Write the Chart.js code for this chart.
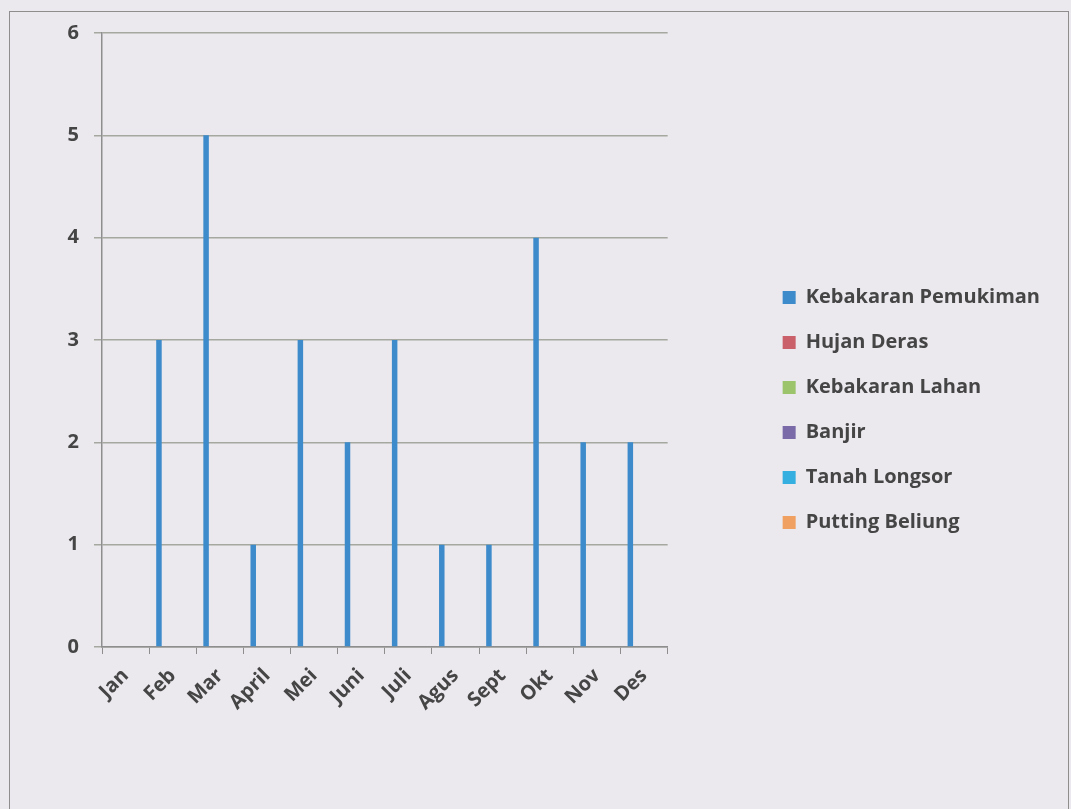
<!DOCTYPE html>
<html>
<head>
<meta charset="utf-8">
<script src="https://cdn.jsdelivr.net/npm/chart.js@4.4.1/dist/chart.umd.min.js"></script>
<style>
  html, body { margin: 0; padding: 0; background: #ebe8ee; overflow: hidden; }
  #wrap { position: absolute; left: 0; top: 0; width: 1071px; height: 809px; }
  #frame { position: absolute; left: 9px; top: 11px; width: 1058px; height: 820px; border: 1.5px solid #8e8e8e; pointer-events: none; }
  canvas { position: absolute; left: 0; top: 0; }
</style>
</head>
<body>
<div id="wrap">
  <canvas id="c" width="1071" height="809"></canvas>
  <div id="frame"></div>
</div>
<script>
const months = ['Jan','Feb','Mar','April','Mei','Juni','Juli','Agus','Sept','Okt','Nov','Des'];
const seriesNames = ['Kebakaran Pemukiman','Hujan Deras','Kebakaran Lahan','Banjir','Tanah Longsor','Putting Beliung'];
const kebakaranPemukiman = [0,3,5,1,3,2,3,1,1,4,2,2];
const hujanDeras        = [0,0,0,0,0,0,0,0,0,0,0,0];
const kebakaranLahan    = [0,0,0,0,0,0,0,0,0,0,0,0];
const banjir            = [0,0,0,0,0,0,0,0,0,0,0,0];
const tanahLongsor      = [0,0,0,0,0,0,0,0,0,0,0,0];
const puttingBeliung    = [0,0,0,0,0,0,0,0,0,0,0,0];
const yTicks = [0,1,2,3,4,5,6];

const seriesValues = [kebakaranPemukiman, hujanDeras, kebakaranLahan, banjir, tanahLongsor, puttingBeliung];
const seriesColors = ['#3d8bcb','#c9606a','#9cc46a','#7a6aa8','#35afe0','#f0a060'];

const FONT = { family: '"Open Sans", sans-serif', size: 20, weight: '700' };
const TEXT = '#454545';

const datasets = seriesNames.map((name, i) => ({
  label: name,
  data: seriesValues[i],
  backgroundColor: seriesColors[i],
  borderWidth: 0,
  categoryPercentage: 0.70,
  barPercentage: 1.0
}));

new Chart(document.getElementById('c'), {
  type: 'bar',
  data: { labels: months, datasets },
  options: {
    responsive: false,
    animation: false,
    devicePixelRatio: 1,
    layout: { padding: { top: 33, bottom: 22, left: 0, right: 21 } },
    plugins: {
      tooltip: { enabled: false },
      legend: {
        position: 'right',
        align: 'center',
        maxWidth: 600,
        labels: {
          font: FONT,
          color: TEXT,
          boxWidth: 13,
          boxHeight: 13,
          padding: 25
        }
      }
    },
    scales: {
      x: {
        offset: true,
        grid: { display: true, drawOnChartArea: false, drawTicks: true, tickLength: 7, color: '#8e8e8e', offset: true },
        border: { display: true, color: '#8e8e8e', width: 1.5 },
        ticks: { font: FONT, color: TEXT, minRotation: 45, maxRotation: 45, padding: 10, autoSkip: false },
        afterFit: s => { s.height = 140; }
      },
      y: {
        min: 0, max: 6,
        afterBuildTicks: s => { s.ticks = yTicks.map(v => ({ value: v })); },
        grid: { color: '#a5a89e', lineWidth: 1.5, tickLength: 8, drawTicks: true },
        border: { display: true, color: '#8e8e8e', width: 1.5 },
        ticks: { font: FONT, color: TEXT, padding: 15 },
        afterFit: s => { s.width = 102; }
      },
      spacer: {
        position: 'right',
        display: true,
        grid: { display: false },
        border: { display: false },
        ticks: { display: false },
        afterFit: s => { s.width = 90; }
      }
    }
  }
});
</script>
</body>
</html>
